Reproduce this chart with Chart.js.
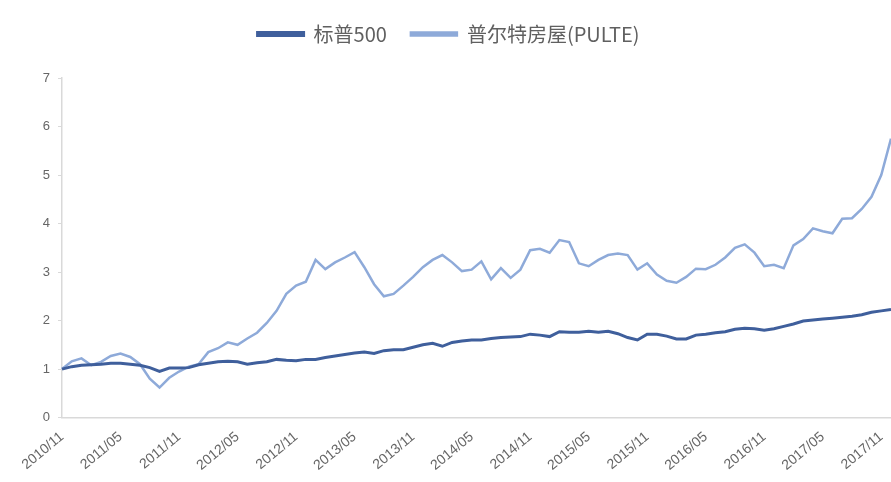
<!DOCTYPE html>
<html>
<head>
<meta charset="utf-8">
<script src="https://cdn.jsdelivr.net/npm/chart.js@4"></script>
<style>
  html, body { margin: 0; padding: 0; background: #fff; }
  #wrap { width: 891px; height: 482px; }
</style>
</head>
<body>
<div id="wrap"><canvas id="c"></canvas></div>
<script>
// monthly, 2010/11 .. 2017/12
var months = [];
for (var k = 0; k < 86; k++) {
  var yr = 2010 + Math.floor((10 + k) / 12);
  var mo = (10 + k) % 12 + 1;
  months.push(yr + '/' + (mo < 10 ? '0' + mo : mo));
}
var shownTicks = ['2010/11','2011/05','2011/11','2012/05','2012/11','2013/05','2013/11','2014/05',
  '2014/11','2015/05','2015/11','2016/05','2016/11','2017/05','2017/11'];

var sp500 = [1.00,1.05,1.08,1.09,1.10,1.12,1.12,1.10,1.08,1.03,
  0.95,1.02,1.02,1.03,1.09,1.12,1.15,1.16,1.15,1.10,
  1.13,1.15,1.20,1.18,1.17,1.20,1.20,1.24,1.27,1.30,
  1.33,1.35,1.32,1.38,1.40,1.40,1.45,1.50,1.53,1.47,
  1.55,1.58,1.60,1.60,1.63,1.65,1.66,1.67,1.72,1.70,
  1.67,1.77,1.76,1.76,1.78,1.76,1.78,1.73,1.65,1.60,
  1.72,1.72,1.68,1.62,1.62,1.70,1.72,1.75,1.77,1.82,
  1.84,1.83,1.80,1.83,1.88,1.93,1.99,2.01,2.03,2.05,
  2.07,2.09,2.12,2.17,2.20,2.23];

var pulte = [1.00,1.16,1.22,1.08,1.15,1.27,1.32,1.25,1.10,0.80,
  0.62,0.82,0.95,1.05,1.10,1.35,1.43,1.55,1.50,1.63,
  1.75,1.95,2.20,2.55,2.72,2.80,3.25,3.06,3.20,3.30,
  3.41,3.10,2.75,2.50,2.55,2.72,2.90,3.10,3.25,3.35,
  3.20,3.02,3.05,3.22,2.85,3.08,2.88,3.05,3.45,3.48,
  3.40,3.66,3.62,3.18,3.12,3.25,3.35,3.38,3.35,3.05,
  3.18,2.95,2.82,2.78,2.90,3.07,3.06,3.15,3.30,3.50,
  3.57,3.40,3.12,3.15,3.08,3.55,3.68,3.90,3.84,3.80,
  4.10,4.11,4.30,4.55,5.00,5.75];

var yTicks = [0, 1, 2, 3, 4, 5, 6, 7];

var spColor = '#3f5f9c';
var pulteColor = '#8eaad9';

// extra room under the legend
var legendGap = {
  id: 'legendGap',
  beforeUpdate: function (chart) {
    if (chart.legend && !chart.legend._gapDone) {
      var fit = chart.legend.fit;
      chart.legend.fit = function () { fit.call(this); this.height += 24; };
      chart.legend._gapDone = true;
    }
  }
};

new Chart(document.getElementById('c'), {
  type: 'line',
  data: {
    labels: months,
    datasets: [
      { label: '标普500', data: sp500, borderColor: spColor, backgroundColor: spColor,
        borderWidth: 3, pointRadius: 0, tension: 0 },
      { label: '普尔特房屋(PULTE)', data: pulte, borderColor: pulteColor, backgroundColor: pulteColor,
        borderWidth: 2.5, pointRadius: 0, tension: 0 }
    ]
  },
  plugins: [legendGap],
  options: {
    responsive: true,
    maintainAspectRatio: false,
    animation: false,
    layout: { padding: { left: 6, right: 0, top: 0, bottom: 2 } },
    plugins: {
      tooltip: { enabled: false },
      legend: {
        position: 'top',
        labels: {
          boxWidth: 46, boxHeight: 3, padding: 24,
          color: '#606060',
          font: { family: '"Noto Sans CJK SC", "Liberation Sans", sans-serif', size: 20 }
        }
      }
    },
    scales: {
      x: {
        offset: false,
        afterFit: function (s) { s.paddingRight = 0; s.height += 3; },
        grid: { display: false },
        border: { display: true, color: '#d9d9d9', width: 1.5 },
        ticks: {
          autoSkip: false, minRotation: 40, maxRotation: 40,
          color: '#666', font: { family: '"Liberation Sans", Arial, sans-serif', size: 14 },
          callback: function (v, i) { return shownTicks.indexOf(months[i]) >= 0 ? months[i] : ''; }
        }
      },
      y: {
        min: 0, max: 7,
        afterFit: function (s) { s.width = 56; },
        afterBuildTicks: function (s) { s.ticks = yTicks.map(function (v) { return { value: v }; }); },
        grid: { drawOnChartArea: false, drawTicks: true, tickLength: 4, color: '#d9d9d9' },
        border: { display: true, color: '#d9d9d9', width: 1.5 },
        ticks: { color: '#666', padding: 8, font: { family: '"Liberation Sans", Arial, sans-serif', size: 13 } }
      }
    }
  }
});
</script>
</body>
</html>
